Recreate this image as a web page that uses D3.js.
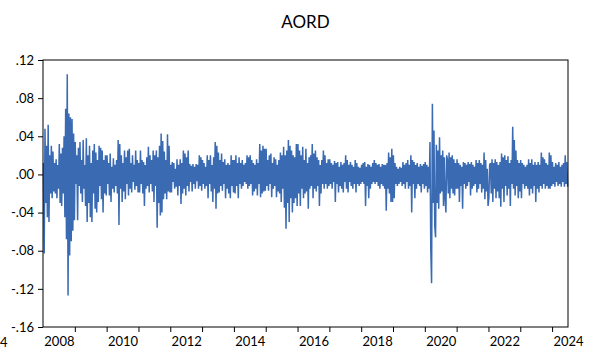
<!DOCTYPE html>
<html>
<head>
<meta charset="utf-8">
<script src="https://cdn.jsdelivr.net/npm/d3@7"></script>
<style>
  body { margin: 0; background: #fff; }
  text { font-family: Lato, "Open Sans", sans-serif; fill: #000; }
</style>
</head>
<body>
<div id="chart"></div>
<script>
// returns per calendar year (40 points per year, 2024 half a year)
const r2008 = [0.012, -0.083, 0.048, -0.03, 0.03, -0.045, 0.052, -0.05, 0.02, -0.02, 0.03, -0.025, 0.024, -0.018, 0.012, -0.02, 0.016, -0.025, 0.01, -0.015, 0.032, -0.03, 0.022, -0.033, 0.028, -0.02, 0.04, -0.045, 0.069, -0.068, 0.105, -0.127, 0.064, -0.085, 0.06, -0.07, 0.058, -0.059, 0.043, -0.048];
const r2009 = [0.034, -0.01, 0.02, -0.048, 0.028, -0.012, 0.034, -0.02, 0.015, -0.029, 0.036, -0.015, 0.01, -0.033, 0.038, -0.05, 0.02, -0.03, 0.03, -0.045, 0.012, -0.05, 0.025, -0.02, 0.032, -0.036, 0.023, -0.04, 0.015, -0.029, 0.03, -0.012, 0.028, -0.026, 0.025, -0.04, 0.015, -0.02, 0.02, -0.022];
const r2010 = [0.02, -0.01, 0.012, -0.022, 0.022, -0.029, 0.008, -0.015, 0.017, -0.019, 0.01, -0.012, 0.015, -0.02, 0.036, -0.053, 0.032, -0.015, 0.02, -0.029, 0.012, -0.018, 0.025, -0.026, 0.018, -0.01, 0.025, -0.022, 0.027, -0.015, 0.012, -0.019, 0.02, -0.008, 0.01, -0.016, 0.025, -0.012, 0.015, -0.019];
const r2011 = [0.012, -0.019, 0.025, -0.01, 0.015, -0.02, 0.013, -0.033, 0.01, -0.015, 0.018, -0.012, 0.029, -0.019, 0.02, -0.01, 0.015, -0.018, 0.025, -0.029, 0.02, -0.012, 0.025, -0.056, 0.018, -0.03, 0.03, -0.043, 0.043, -0.04, 0.035, -0.026, 0.024, -0.02, 0.015, -0.026, 0.042, -0.018, 0.03, -0.019];
const r2012 = [0.01, -0.019, 0.013, -0.008, 0.012, -0.015, 0.006, -0.013, 0.016, -0.022, 0.01, -0.012, 0.016, -0.031, 0.012, -0.02, 0.025, -0.015, 0.022, -0.022, 0.018, -0.012, 0.025, -0.018, 0.011, -0.008, 0.009, -0.018, 0.011, -0.01, 0.008, -0.015, 0.011, -0.007, 0.01, -0.015, 0.02, -0.012, 0.018, -0.017];
const r2013 = [0.015, -0.01, 0.012, -0.015, 0.008, -0.012, 0.02, -0.025, 0.015, -0.01, 0.02, -0.018, 0.01, -0.029, 0.018, -0.015, 0.034, -0.036, 0.03, -0.02, 0.023, -0.019, 0.015, -0.012, 0.022, -0.017, 0.013, -0.01, 0.016, -0.025, 0.01, -0.015, 0.012, -0.02, 0.01, -0.025, 0.02, -0.012, 0.015, -0.019];
const r2014 = [0.015, -0.02, 0.02, -0.012, 0.012, -0.025, 0.018, -0.01, 0.012, -0.015, 0.015, -0.012, 0.01, -0.008, 0.012, -0.01, 0.02, -0.015, 0.018, -0.012, 0.02, -0.01, 0.015, -0.022, 0.012, -0.018, 0.01, -0.015, 0.016, -0.022, 0.012, -0.01, 0.032, -0.024, 0.025, -0.02, 0.03, -0.018, 0.027, -0.017];
const r2015 = [0.027, -0.012, 0.015, -0.017, 0.02, -0.01, 0.022, -0.024, 0.012, -0.015, 0.018, -0.012, 0.016, -0.024, 0.01, -0.018, 0.015, -0.02, 0.023, -0.029, 0.02, -0.015, 0.029, -0.035, 0.02, -0.057, 0.025, -0.03, 0.036, -0.05, 0.03, -0.025, 0.025, -0.04, 0.02, -0.03, 0.018, -0.025, 0.032, -0.033];
const r2016 = [0.032, -0.02, 0.025, -0.033, 0.02, -0.015, 0.029, -0.025, 0.015, -0.02, 0.027, -0.018, 0.012, -0.036, 0.018, -0.015, 0.02, -0.012, 0.032, -0.025, 0.022, -0.015, 0.025, -0.018, 0.018, -0.012, 0.015, -0.033, 0.01, -0.02, 0.015, -0.01, 0.025, -0.015, 0.02, -0.01, 0.012, -0.015, 0.016, -0.012];
const r2017 = [0.016, -0.01, 0.012, -0.015, 0.01, -0.008, 0.014, -0.029, 0.012, -0.01, 0.013, -0.019, 0.008, -0.012, 0.013, -0.015, 0.01, -0.019, 0.012, -0.008, 0.02, -0.015, 0.015, -0.019, 0.01, -0.008, 0.013, -0.012, 0.01, -0.015, 0.008, -0.01, 0.015, -0.019, 0.012, -0.01, 0.008, -0.012, 0.007, -0.01];
const r2018 = [0.01, -0.008, 0.012, -0.01, 0.013, -0.033, 0.008, -0.012, 0.011, -0.025, 0.01, -0.015, 0.008, -0.01, 0.012, -0.008, 0.015, -0.01, 0.012, -0.008, 0.01, -0.012, 0.011, -0.015, 0.008, -0.01, 0.011, -0.012, 0.01, -0.015, 0.01, -0.038, 0.012, -0.015, 0.023, -0.02, 0.018, -0.029, 0.027, -0.029];
const r2019 = [0.02, -0.025, 0.012, -0.01, 0.008, -0.012, 0.006, -0.01, 0.008, -0.008, 0.007, -0.012, 0.013, -0.01, 0.01, -0.015, 0.012, -0.008, 0.015, -0.015, 0.01, -0.012, 0.02, -0.04, 0.015, -0.01, 0.013, -0.025, 0.01, -0.015, 0.012, -0.01, 0.008, -0.012, 0.011, -0.019, 0.009, -0.01, 0.011, -0.015];
const r2020 = [0.013, -0.012, 0.01, -0.019, 0.008, -0.015, 0.034, -0.078, -0.114, 0.074, -0.03, 0.046, -0.054, -0.066, 0.031, -0.03, 0.025, -0.036, 0.039, -0.02, 0.02, -0.018, 0.025, -0.033, 0.018, -0.025, -0.04, 0.02, 0.015, -0.02, 0.023, -0.025, 0.018, -0.015, 0.02, -0.02, 0.016, -0.022, 0.012, -0.015];
const r2021 = [0.016, -0.015, 0.012, -0.029, 0.01, -0.012, 0.008, -0.036, 0.013, -0.01, 0.012, -0.015, 0.01, -0.012, 0.013, -0.008, 0.011, -0.022, 0.013, -0.015, 0.01, -0.012, 0.008, -0.01, 0.015, -0.019, 0.012, -0.015, 0.015, -0.01, 0.012, -0.019, 0.01, -0.015, 0.023, -0.026, 0.015, -0.018, 0.006, -0.033];
const r2022 = [-0.025, 0.01, 0.012, -0.02, 0.016, -0.029, 0.012, -0.015, 0.016, -0.025, 0.013, -0.018, 0.01, -0.025, 0.013, -0.034, 0.022, -0.015, 0.018, -0.029, 0.02, -0.012, 0.015, -0.022, 0.019, -0.015, 0.012, -0.033, 0.015, -0.01, 0.05, -0.015, 0.036, -0.022, 0.025, -0.012, 0.015, -0.025, 0.012, -0.018];
const r2023 = [0.015, -0.025, 0.012, -0.01, 0.01, -0.015, 0.008, -0.012, 0.01, -0.015, 0.016, -0.022, 0.012, -0.015, 0.016, -0.02, 0.01, -0.012, 0.013, -0.029, 0.01, -0.015, 0.013, -0.019, 0.01, -0.012, 0.023, -0.015, 0.018, -0.01, 0.016, -0.015, 0.012, -0.012, 0.01, -0.015, 0.023, -0.015, 0.02, -0.012];
const r2024 = [0.013, -0.01, 0.008, -0.013, 0.012, -0.008, 0.01, -0.012, 0.013, -0.01, 0.008, -0.013, 0.01, -0.008, 0.012, -0.013, 0.02, -0.01, 0.013, -0.013];

const years = [2008, 2009, 2010, 2011, 2012, 2013, 2014, 2015, 2016, 2017, 2018, 2019, 2020, 2021, 2022, 2023, 2024];
const yearReturns = [r2008, r2009, r2010, r2011, r2012, r2013, r2014, r2015, r2016, r2017, r2018, r2019, r2020, r2021, r2022, r2023, r2024];
const pointsPerYear = 40;

const yTicks = [-0.16, -0.12, -0.08, -0.04, 0.00, 0.04, 0.08, 0.12];
const xTickYears = [2009, 2010, 2011, 2012, 2013, 2014, 2015, 2016, 2017, 2018, 2019, 2020, 2021, 2022, 2023, 2024];
const xLabelYears = [2008, 2010, 2012, 2014, 2016, 2018, 2020, 2022, 2024];

const width = 597, height = 352;
const margin = {top: 60, right: 29, bottom: 25, left: 43};

// flatten to (time, value) points
const series = [];
years.forEach((yr, k) => {
  yearReturns[k].forEach((v, i) => {
    series.push({t: yr + (i + 0.5) / pointsPerYear, v: v});
  });
});

const svg = d3.select("#chart").append("svg")
  .attr("width", width)
  .attr("height", height);

const x = d3.scaleLinear()
  .domain([2008, 2024.5])
  .range([margin.left, width - margin.right]);

const y = d3.scaleLinear()
  .domain([-0.16, 0.12])
  .range([height - margin.bottom, margin.top]);

// title
svg.append("text")
  .attr("x", (margin.left + width - margin.right) / 2)
  .attr("y", 28)
  .attr("text-anchor", "middle")
  .style("font-size", "17px")
  .text("AORD");

// line
const line = d3.line()
  .x(d => x(d.t))
  .y(d => y(d.v));

svg.append("path")
  .datum(series)
  .attr("d", line)
  .attr("fill", "none")
  .attr("stroke", "#3a6ab2")
  .attr("stroke-width", 1.5)
  .attr("stroke-linejoin", "miter");

// y axis
const fmt = v => {
  const s = d3.format(".2f")(Math.abs(v)).replace(/^0/, "");
  return (v < 0 ? "-" : "") + s;
};
const yAxis = svg.append("g")
  .attr("transform", "translate(" + margin.left + ",0)")
  .call(d3.axisLeft(y).tickValues(yTicks).tickSize(5).tickPadding(4).tickFormat(fmt));
yAxis.select(".domain").remove();
yAxis.selectAll("text").style("font-size", "13px").style("font-family", "Lato, 'Open Sans', sans-serif");

// x axis ticks
const xTicks = svg.append("g")
  .attr("transform", "translate(0," + (height - margin.bottom) + ")")
  .call(d3.axisBottom(x).tickValues(xTickYears).tickSize(5).tickFormat(""));
xTicks.select(".domain").remove();

// x labels centred in their year
const xLabels = svg.append("g")
  .attr("transform", "translate(0," + (height - margin.bottom) + ")")
  .call(d3.axisBottom(x).tickValues(xLabelYears.map(d => d + 0.5)).tickSize(0).tickPadding(10)
    .tickFormat(d => String(Math.floor(d))));
xLabels.select(".domain").remove();
xLabels.selectAll("text").style("font-size", "13px").style("font-family", "Lato, 'Open Sans', sans-serif");

// clipped label at left edge
svg.append("text")
  .attr("x", 0)
  .attr("y", 347)
  .style("font-size", "13px")
  .text("4");

// frame
svg.append("rect")
  .attr("x", margin.left)
  .attr("y", margin.top)
  .attr("width", width - margin.left - margin.right)
  .attr("height", height - margin.top - margin.bottom)
  .attr("fill", "none")
  .attr("stroke", "#000")
  .attr("stroke-width", 1);
</script>
</body>
</html>
